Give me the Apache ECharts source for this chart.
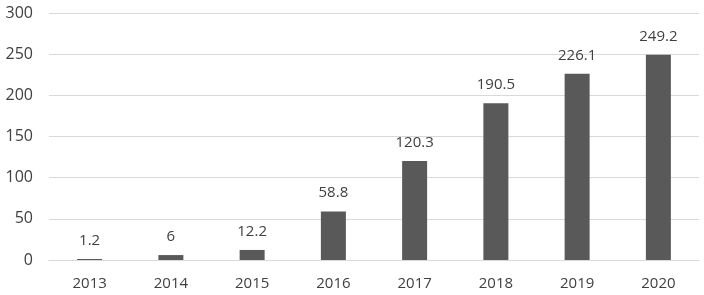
<!DOCTYPE html>
<html>
<head>
<meta charset="utf-8">
<script src="https://cdn.jsdelivr.net/npm/echarts@6/dist/echarts.min.js"></script>
<style>
  html, body { margin: 0; padding: 0; background: #fff; }
  #chart { width: 704px; height: 295px; }
</style>
</head>
<body>
<div id="chart"></div>
<script>
// 年度柱状图
const years = ['2013', '2014', '2015', '2016', '2017', '2018', '2019', '2020']
const values = [1.2, 6, 12.2, 58.8, 120.3, 190.5, 226.1, 249.2]
const yTicks = [0, 50, 100, 150, 200, 250, 300]

const myChart = echarts.init(document.getElementById('chart'))
const options = {
  backgroundColor: '#fff',
  animation: false,
  textStyle: { fontFamily: 'Open Sans' },
  grid: { left: 49, right: 5, top: 13, bottom: 35, containLabel: false },
  xAxis: {
    type: 'category',
    data: years,
    axisLine: { show: true, lineStyle: { color: '#d9d9d9', width: 1 } },
    axisTick: { show: false },
    axisLabel: { color: '#404040', fontSize: 15, margin: 16 }
  },
  yAxis: {
    type: 'value',
    min: yTicks[0],
    max: yTicks[yTicks.length - 1],
    interval: 50,
    axisLine: { show: false },
    axisTick: { show: false },
    axisLabel: { color: '#404040', fontSize: 16, margin: 16 },
    splitLine: { lineStyle: { color: '#d9d9d9', width: 1 } }
  },
  series: [{
    type: 'bar',
    data: values,
    barWidth: 25,
    itemStyle: { color: '#595959' },
    label: {
      show: true,
      position: 'top',
      distance: 11,
      color: '#404040',
      fontSize: 15
    }
  }]
}
myChart.setOption(options)
</script>
</body>
</html>
